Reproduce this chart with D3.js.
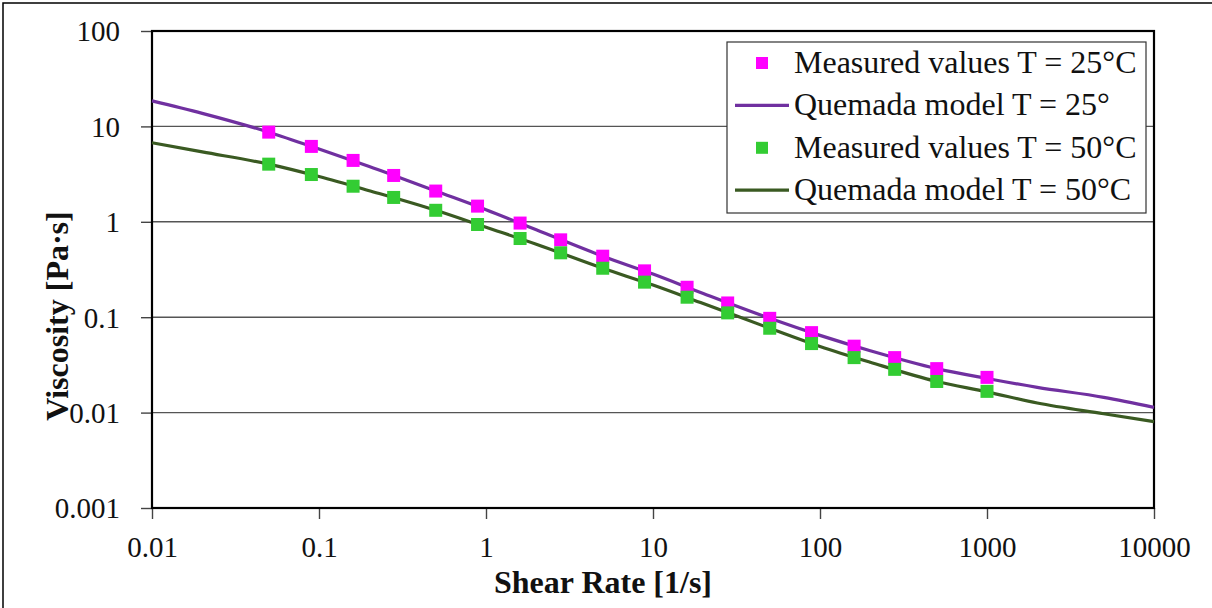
<!DOCTYPE html>
<html lang="en">

<head>
  <meta charset="UTF-8">
  <title>Viscosity vs shear rate</title>
  <script src="https://cdn.jsdelivr.net/npm/d3@7.6.1/dist/d3.min.js"></script>
  <style>
    body { margin: 0; background: #fff; }
    svg { display: block; }
    text { font-family: "Liberation Serif", "Times New Roman", serif; fill: #111; }
  </style>
</head>

<body>
  <div id="chart"></div>
  <script>
    const width = 1212
    const height = 608
    const margin = { left: 152, right: 58, top: 31, bottom: 100 }

    // measured shear rates [1/s]
    const shearRate = [0.05, 0.09, 0.16, 0.28, 0.5, 0.89, 1.6, 2.8, 5, 8.9, 16, 28, 50, 89, 160, 280, 500, 1000]
    // measured viscosity [Pa·s]
    const measured25 = [8.71, 6.17, 4.40, 3.06, 2.10, 1.46, 0.97, 0.647, 0.436, 0.306, 0.206, 0.141, 0.0973, 0.0689, 0.0497, 0.0377, 0.0289, 0.0234]
    const measured50 = [4.02, 3.13, 2.36, 1.80, 1.32, 0.937, 0.668, 0.473, 0.326, 0.233, 0.162, 0.111, 0.0766, 0.0529, 0.0377, 0.0284, 0.0212, 0.0167]

    // Quemada model curves
    const modelRate = [0.01, 0.02, 0.05, 0.1, 0.2, 0.5, 1, 2, 5, 10, 20, 50, 100, 200, 500, 1000, 2000, 5000, 10000]
    const model25 = [18.5, 13.7, 8.7, 5.80, 3.80, 2.10, 1.34, 0.826, 0.436, 0.283, 0.177, 0.0973, 0.0645, 0.0445, 0.0289, 0.0228, 0.0184, 0.01445, 0.01135]
    const model50 = [6.74, 5.40, 4.02, 2.98, 2.12, 1.32, 0.877, 0.582, 0.326, 0.217, 0.139, 0.0766, 0.0494, 0.0337, 0.0212, 0.0165, 0.0126, 0.00973, 0.00804]

    const xTicks = [0.01, 0.1, 1, 10, 100, 1000, 10000]
    const xTickLabels = ['0.01', '0.1', '1', '10', '100', '1000', '10000']
    const yTicks = [0.001, 0.01, 0.1, 1, 10, 100]
    const yTickLabels = ['0.001', '0.01', '0.1', '1', '10', '100']

    const legendItems = [
      { label: 'Measured values T = 25°C', type: 'marker', color: '#ff00ff' },
      { label: 'Quemada model T = 25°', type: 'line', color: '#7030a0' },
      { label: 'Measured values T = 50°C', type: 'marker', color: '#33cc33' },
      { label: 'Quemada model T = 50°C', type: 'line', color: '#3a5a22' }
    ]

    const x = d3.scaleLog().domain([0.01, 10000]).range([margin.left, width - margin.right])
    const y = d3.scaleLog().domain([0.001, 100]).range([height - margin.bottom, margin.top])

    const svg = d3.select('#chart').append('svg')
      .attr('width', width)
      .attr('height', height)

    // outer frame (only left and top edges fall inside the page)
    svg.append('rect')
      .attr('x', 3).attr('y', 3)
      .attr('width', width + 10).attr('height', height + 10)
      .attr('fill', 'none')
      .attr('stroke', '#000')
      .attr('stroke-width', 1.5)

    // horizontal gridlines
    svg.append('g').selectAll('line').data(yTicks.slice(1, -1))
      .enter().append('line')
      .attr('x1', x.range()[0]).attr('x2', x.range()[1])
      .attr('y1', d => y(d)).attr('y2', d => y(d))
      .attr('stroke', '#555')
      .attr('stroke-width', 1.4)

    // y axis
    const yAxis = svg.append('g')
      .attr('transform', `translate(${margin.left},0)`)
      .call(d3.axisLeft(y).tickValues(yTicks).tickSize(11).tickSizeOuter(0)
        .tickFormat((d, i) => yTickLabels[i]))
    yAxis.select('.domain').remove()
    yAxis.selectAll('.tick line').attr('stroke', '#444').attr('stroke-width', 1.4)
    yAxis.selectAll('.tick text')
      .attr('x', -32)
      .attr('dy', '0.34em')
      .attr('font-size', 29)
      .attr('fill', '#111')

    // x axis
    const xAxis = svg.append('g')
      .attr('transform', `translate(0,${height - margin.bottom})`)
      .call(d3.axisBottom(x).tickValues(xTicks).tickSize(11).tickSizeOuter(0)
        .tickFormat((d, i) => xTickLabels[i]))
    xAxis.select('.domain').remove()
    xAxis.selectAll('.tick line').attr('stroke', '#444').attr('stroke-width', 1.4)
    xAxis.selectAll('.tick text')
      .attr('y', 28)
      .attr('dy', '0.71em')
      .attr('font-size', 29)
      .attr('fill', '#111')

    // plot border
    svg.append('rect')
      .attr('x', x.range()[0]).attr('y', y.range()[1])
      .attr('width', x.range()[1] - x.range()[0])
      .attr('height', y.range()[0] - y.range()[1])
      .attr('fill', 'none')
      .attr('stroke', '#000')
      .attr('stroke-width', 2.2)

    // model curves
    const line = d3.line()
      .x(d => x(d[0]))
      .y(d => y(d[1]))
      .curve(d3.curveMonotoneX)

    const curves = [
      { values: model25, color: legendItems[1].color },
      { values: model50, color: legendItems[3].color }
    ]
    svg.append('g').selectAll('path').data(curves)
      .enter().append('path')
      .attr('d', c => line(modelRate.map((r, i) => [r, c.values[i]])))
      .attr('fill', 'none')
      .attr('stroke', c => c.color)
      .attr('stroke-width', 3.2)

    // measured points
    const sq = 13
    const series = [
      { values: measured25, color: legendItems[0].color },
      { values: measured50, color: legendItems[2].color }
    ]
    series.forEach(s => {
      svg.append('g').selectAll('rect').data(shearRate)
        .enter().append('rect')
        .attr('x', d => x(d) - sq / 2)
        .attr('y', (d, i) => y(s.values[i]) - sq / 2)
        .attr('width', sq)
        .attr('height', sq)
        .attr('fill', s.color)
    })

    // axis titles
    svg.append('text')
      .attr('x', 603)
      .attr('y', 593)
      .attr('text-anchor', 'middle')
      .attr('font-size', 32)
      .attr('font-weight', 'bold')
      .text('Shear Rate [1/s]')

    svg.append('text')
      .attr('transform', 'translate(68,316) rotate(-90)')
      .attr('text-anchor', 'middle')
      .attr('font-size', 32)
      .attr('font-weight', 'bold')
      .text('Viscosity [Pa·s]')

    // legend
    const legend = svg.append('g')
    legend.append('rect')
      .attr('x', 727).attr('y', 42)
      .attr('width', 419).attr('height', 171)
      .attr('fill', '#fff')
      .attr('stroke', '#333')
      .attr('stroke-width', 1.2)

    const rowStep = 42.4
    const rows = legend.selectAll('g.row').data(legendItems)
      .enter().append('g')
      .attr('transform', (d, i) => `translate(0,${63 + i * rowStep})`)

    rows.filter(d => d.type === 'marker').append('rect')
      .attr('x', 762 - 6).attr('y', -6)
      .attr('width', 12).attr('height', 12)
      .attr('fill', d => d.color)

    rows.filter(d => d.type === 'line').append('line')
      .attr('x1', 735).attr('x2', 789)
      .attr('y1', 0).attr('y2', 0)
      .attr('stroke', d => d.color)
      .attr('stroke-width', 3.2)

    rows.append('text')
      .attr('x', 794)
      .attr('y', 10)
      .attr('font-size', 32)
      .text(d => d.label)
  </script>
</body>

</html>
